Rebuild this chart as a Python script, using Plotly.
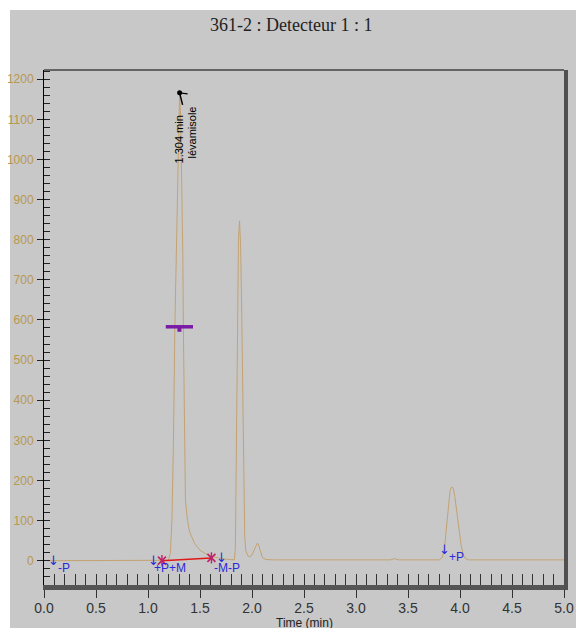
import plotly.graph_objects as go

# ---------------- data ----------------
time_min = [0.03, 0.50, 1.00, 1.15, 1.19, 1.20, 1.215, 1.23, 1.245, 1.258, 1.27, 1.283, 1.295,
            1.304, 1.315, 1.327, 1.335, 1.34, 1.345, 1.35, 1.36, 1.38, 1.40, 1.45, 1.50, 1.55,
            1.60, 1.70, 1.80, 1.83, 1.84, 1.85, 1.86, 1.87, 1.88, 1.89, 1.90, 1.91, 1.92, 1.93,
            1.94, 1.96, 1.98, 2.00, 2.03, 2.05, 2.06, 2.08, 2.10, 2.13, 2.20, 3.00, 3.33, 3.37,
            3.41, 3.80, 3.83, 3.85, 3.87, 3.89, 3.905, 3.92, 3.935, 3.95, 3.97, 3.99, 4.01, 4.03,
            4.05, 4.08, 4.50, 5.00]
signal = [0, 0, 0, 0, 1, 4, 20, 100, 300, 580, 760, 924, 1080,
          1168, 1090, 924, 760, 580, 420, 260, 150, 100, 72, 42, 26, 18,
          12, 5, 2, 2, 30, 250, 600, 800, 847, 790, 640, 450, 180, 60,
          25, 12, 10, 14, 32, 43, 42, 24, 8, 3, 2, 2, 2, 5,
          2, 2, 8, 30, 80, 145, 176, 184, 180, 160, 120, 80, 40, 15,
          6, 2, 2, 2]

title_text = "361-2 : Detecteur 1 : 1"
x_title = "Time (min)"

peak_rt = 1.304
peak_height = 1166
peak_name = "lévamisole"
half_width_bounds = [1.171, 1.433]

baseline_t = [1.134, 1.61]
baseline_v = [0, 7]

event_arrow_t = [0.09, 1.05, 1.71, 3.853]
event_arrow_v = [0, 0, 7, 29]
event_text = ["-P", "+P+M", "-M-P", "+P"]
event_text_t = [0.19, 1.215, 1.76, 3.963]
event_text_v = [-19, -19, -17, 9]

x_range = [0, 5]
y_range = [-60.6, 1223]

# ---------------- figure ----------------
GRAY = "#c8c8c8"
GOLD = "#b8974e"
TRACE = "#c4a272"
BLUE = "#2a2ad8"
TICKFONT = "Liberation Sans, Arial, sans-serif"

OFF = 8                      # page body margin
L, R, T, B = 36, 20, 62, 43  # figure margins
W, H = 576, 620
PW, PH = W - L - R, H - T - B


def px(page_x):
    return (page_x - OFF - L) / PW


def py(page_y):
    return (OFF + T + PH - page_y) / PH


fig = go.Figure()

fig.add_trace(go.Scatter(x=time_min, y=signal, mode="lines",
                         line=dict(color=TRACE, width=1), hoverinfo="skip"))

# integration baseline
fig.add_trace(go.Scatter(x=baseline_t, y=baseline_v, mode="lines",
                         line=dict(color="#e01818", width=1.5), hoverinfo="skip"))
fig.add_trace(go.Scatter(x=baseline_t, y=baseline_v, mode="markers",
                         marker=dict(symbol="x-thin-open", size=8, color="#c0206a",
                                     line=dict(color="#c0206a", width=1.6)),
                         hoverinfo="skip"))
fig.add_trace(go.Scatter(x=baseline_t, y=baseline_v, mode="markers",
                         marker=dict(symbol="line-ns-open", size=8, color="#c0206a",
                                     line=dict(color="#c0206a", width=1.4)),
                         hoverinfo="skip"))

# apex dot
fig.add_trace(go.Scatter(x=[peak_rt], y=[peak_height], mode="markers",
                         marker=dict(color="black", size=5), hoverinfo="skip"))

# invisible trace for the minor-tick axes
fig.add_trace(go.Scatter(x=[x_range[0]], y=[0], xaxis="x2", yaxis="y2",
                         mode="markers", marker=dict(opacity=0), hoverinfo="skip"))

shapes = []
# white outer strips
shapes.append(dict(type="rect", xref="paper", yref="paper",
                   x0=px(0), x1=px(600), y0=py(10), y1=py(0),
                   fillcolor="white", line=dict(width=0), layer="below"))
shapes.append(dict(type="rect", xref="paper", yref="paper",
                   x0=px(0), x1=px(10), y0=py(640), y1=py(0),
                   fillcolor="white", line=dict(width=0), layer="below"))
# top border
shapes.append(dict(type="line", xref="paper", yref="paper",
                   x0=0, x1=1, y0=1, y1=1, line=dict(color="black", width=1)))
# right border
shapes.append(dict(type="line", xref="paper", yref="paper",
                   x0=px(566), x1=px(566), y0=py(590), y1=1,
                   line=dict(color="#505050", width=4)))
# apex pointer
shapes.append(dict(type="line", xref="x", yref="y", xsizemode="pixel", ysizemode="pixel",
                   xanchor=peak_rt, yanchor=peak_height, x0=0, x1=8, y0=0, y1=-1,
                   line=dict(color="black", width=1.5)))
shapes.append(dict(type="line", xref="x", yref="y", xsizemode="pixel", ysizemode="pixel",
                   xanchor=peak_rt, yanchor=peak_height, x0=0, x1=3, y0=0, y1=-12,
                   line=dict(color="black", width=1.5)))
# width-at-half-height bar
shapes.append(dict(type="line", xref="x", yref="y",
                   x0=half_width_bounds[0], x1=half_width_bounds[1],
                   y0=peak_height / 2, y1=peak_height / 2,
                   line=dict(color="#7a1aa6", width=3.5)))
shapes.append(dict(type="rect", xref="x", yref="y", xsizemode="pixel", ysizemode="pixel",
                   xanchor=sum(half_width_bounds) / 2, yanchor=peak_height / 2,
                   x0=-2, x1=2, y0=0, y1=-5,
                   fillcolor="#7a1aa6", line=dict(width=0)))

annotations = []
annotations.append(dict(text=title_text, xref="paper", yref="paper",
                        x=px(291), y=py(25), showarrow=False,
                        xanchor="center", yanchor="middle",
                        font=dict(family="Liberation Serif, Times New Roman, serif",
                                  size=18, color="#222")))
annotations.append(dict(text=x_title, xref="paper", yref="paper",
                        x=0.5, y=py(623), showarrow=False,
                        xanchor="center", yanchor="middle",
                        font=dict(family="Liberation Sans, Arial, sans-serif",
                                  size=12, color="#222")))
annotations.append(dict(text=f"{peak_rt:.3f} min", x=peak_rt, y=peak_height,
                        xref="x", yref="y", showarrow=False, textangle=-90,
                        xshift=-1, yshift=-47,
                        font=dict(family="Liberation Sans, Arial, sans-serif",
                                  size=11, color="black")))
annotations.append(dict(text=peak_name, x=peak_rt, y=peak_height,
                        xref="x", yref="y", showarrow=False, textangle=-90,
                        xshift=12, yshift=-40,
                        font=dict(family="Liberation Sans, Arial, sans-serif",
                                  size=11, color="black")))
for t, v in zip(event_arrow_t, event_arrow_v):
    annotations.append(dict(text="↓", x=t, y=v, xref="x", yref="y", showarrow=False,
                            font=dict(family="DejaVu Sans, sans-serif", size=13, color=BLUE)))
for s, t, v in zip(event_text, event_text_t, event_text_v):
    annotations.append(dict(text=s, x=t, y=v, xref="x", yref="y", showarrow=False,
                            font=dict(family="Liberation Sans, Arial, sans-serif",
                                      size=12, color=BLUE)))

fig.update_layout(
    width=W, height=H,
    margin=dict(l=L, r=R, t=T, b=B, pad=0),
    paper_bgcolor=GRAY, plot_bgcolor=GRAY,
    showlegend=False,
    shapes=shapes,
    annotations=annotations,
    xaxis=dict(range=x_range, dtick=0.5, tick0=0, tickformat=".1f",
               ticks="outside", ticklen=8, tickwidth=1.2, tickcolor="#333",
               showline=True, linecolor="#555", linewidth=5,
               showgrid=False, zeroline=False, automargin=False,
               ticklabelstandoff=-2,
               tickfont=dict(family=TICKFONT, size=14, color="#333")),
    xaxis2=dict(range=x_range, overlaying="x", anchor="y", side="bottom",
                dtick=0.1, tick0=0, ticks="inside", ticklen=11, tickwidth=1,
                tickcolor="#333", showticklabels=False, showline=False,
                showgrid=False, zeroline=False, automargin=False),
    yaxis=dict(range=y_range, dtick=100, tick0=0,
               ticks="outside", ticklen=6, tickwidth=1.2, tickcolor="#222",
               showline=True, linecolor="black", linewidth=1,
               showgrid=False, zeroline=False, automargin=False,
               ticklabelstandoff=1,
               tickfont=dict(family=TICKFONT, size=12, color=GOLD)),
    yaxis2=dict(range=y_range, overlaying="y", anchor="x", side="left",
                dtick=20, tick0=0, ticks="inside", ticklen=6, tickwidth=1,
                tickcolor="#222", showticklabels=False, showline=False,
                showgrid=False, zeroline=False, automargin=False),
)

fig.write_html("out.html")
